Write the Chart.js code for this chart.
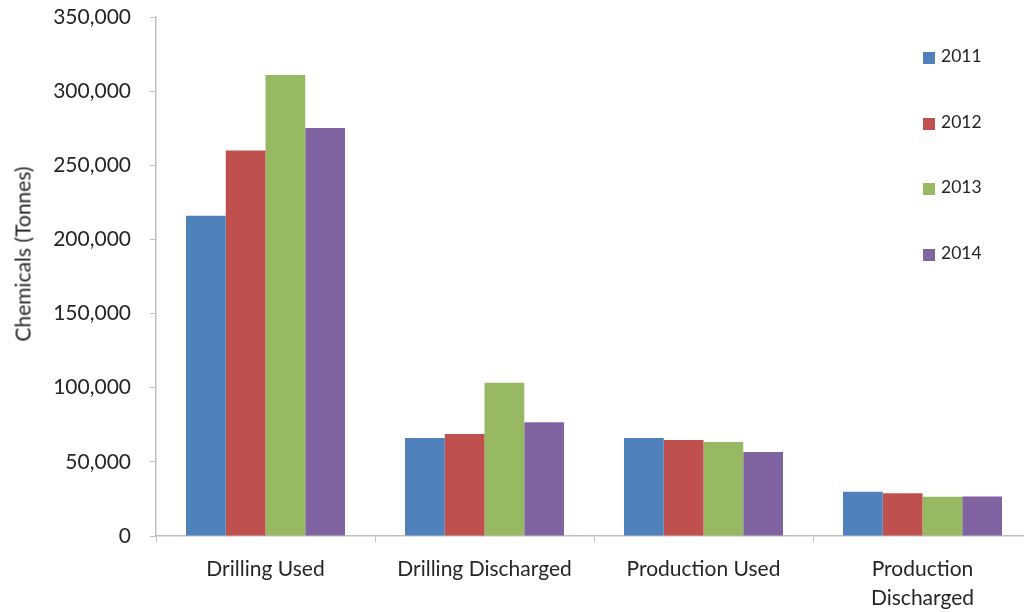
<!DOCTYPE html>
<html>
<head>
<meta charset="utf-8">
<script src="https://cdn.jsdelivr.net/npm/chart.js@4"></script>
<style>
  html, body { margin: 0; padding: 0; background: #fff; overflow: hidden; }
  #wrap { position: relative; width: 1024px; height: 612px; overflow: hidden; }
  #grafico { position: absolute; left: 0; top: 0; }
  #legenda { position: absolute; left: 923px; top: 45px; font-family: Lato, "Open Sans", sans-serif; font-size: 17.5px; color: #262626; }
  #legenda .item { height: 65.7px; display: flex; align-items: flex-start; }
  #legenda .cor { width: 12px; height: 12px; margin-top: 7px; margin-right: 6px; }
  #titulo_y { position: absolute; left: 22px; top: 254px; transform: translate(-50%, -50%) rotate(-90deg);
              white-space: nowrap; font-family: Lato, "Open Sans", sans-serif; font-size: 21px; color: #262626; }
</style>
</head>
<body>
<div id="wrap">
  <canvas id="grafico" width="1040" height="612"></canvas>
  <div id="legenda"></div>
  <div id="titulo_y">Chemicals (Tonnes)</div>
</div>
<script>
// categorias e valores (toneladas)
const categorias = ['Drilling Used', 'Drilling Discharged', 'Production Used', ['Production', 'Discharged']]
const anos = ['2011', '2012', '2013', '2014']
const v2011 = [215900, 66100, 66100, 29900]
const v2012 = [260000, 68800, 64800, 28800]
const v2013 = [310900, 103400, 63400, 26500]
const v2014 = [275100, 76700, 56700, 26700]
const ticksY = [0, 50000, 100000, 150000, 200000, 250000, 300000, 350000]

const cores = ['#4F81BD', '#C0504D', '#96B962', '#8064A2']
const series = [v2011, v2012, v2013, v2014]

const fonte = 'Lato, "Open Sans", sans-serif'
const cinza = '#bfbfbf'

let datasets = []
for (let i = 0; i < anos.length; i++) {
    datasets.push({
        label: anos[i],
        data: series[i],
        backgroundColor: cores[i],
        borderWidth: 0,
        categoryPercentage: 0.726,
        barPercentage: 1.0
    })
}

// legenda em html
let legenda = document.getElementById('legenda')
for (let i = 0; i < anos.length; i++) {
    let item = document.createElement('div')
    item.className = 'item'
    item.innerHTML = '<span class="cor" style="background:' + cores[i] + '"></span><span>' + anos[i] + '</span>'
    legenda.appendChild(item)
}

const ctx = document.getElementById('grafico').getContext('2d')
const grafico = new Chart(ctx, {
    type: 'bar',
    data: {
        labels: categorias,
        datasets: datasets
    },
    options: {
        responsive: false,
        animation: false,
        layout: { padding: { top: 17, right: 8, left: 0, bottom: 0 } },
        plugins: {
            legend: { display: false },
            tooltip: { enabled: false }
        },
        scales: {
            x: {
                grid: {
                    display: true,
                    drawOnChartArea: false,
                    drawTicks: true,
                    tickLength: 6,
                    color: cinza,
                    offset: true
                },
                border: { display: true, color: cinza, width: 1.5 },
                ticks: {
                    autoSkip: false,
                    maxRotation: 0,
                    minRotation: 0,
                    padding: 13,
                    color: '#262626',
                    font: { family: fonte, size: 21, lineHeight: 1.38 }
                },
                afterFit: function (scale) {
                    scale.height = 76
                    scale.paddingLeft = 0
                    scale.paddingRight = 0
                }
            },
            y: {
                min: 0,
                max: 350000,
                afterBuildTicks: function (scale) {
                    scale.ticks = ticksY.map(v => ({ value: v }))
                },
                grid: {
                    display: true,
                    drawOnChartArea: false,
                    drawTicks: true,
                    tickLength: 6,
                    color: cinza
                },
                border: { display: true, color: cinza, width: 1.5 },
                ticks: {
                    padding: 19,
                    color: '#262626',
                    font: { family: fonte, size: 21 },
                    callback: function (v) { return Number(v).toLocaleString('en-US') }
                },
                afterFit: function (scale) {
                    scale.width = 156
                    scale.paddingTop = 0
                    scale.paddingBottom = 0
                }
            }
        }
    }
})
</script>
</body>
</html>
